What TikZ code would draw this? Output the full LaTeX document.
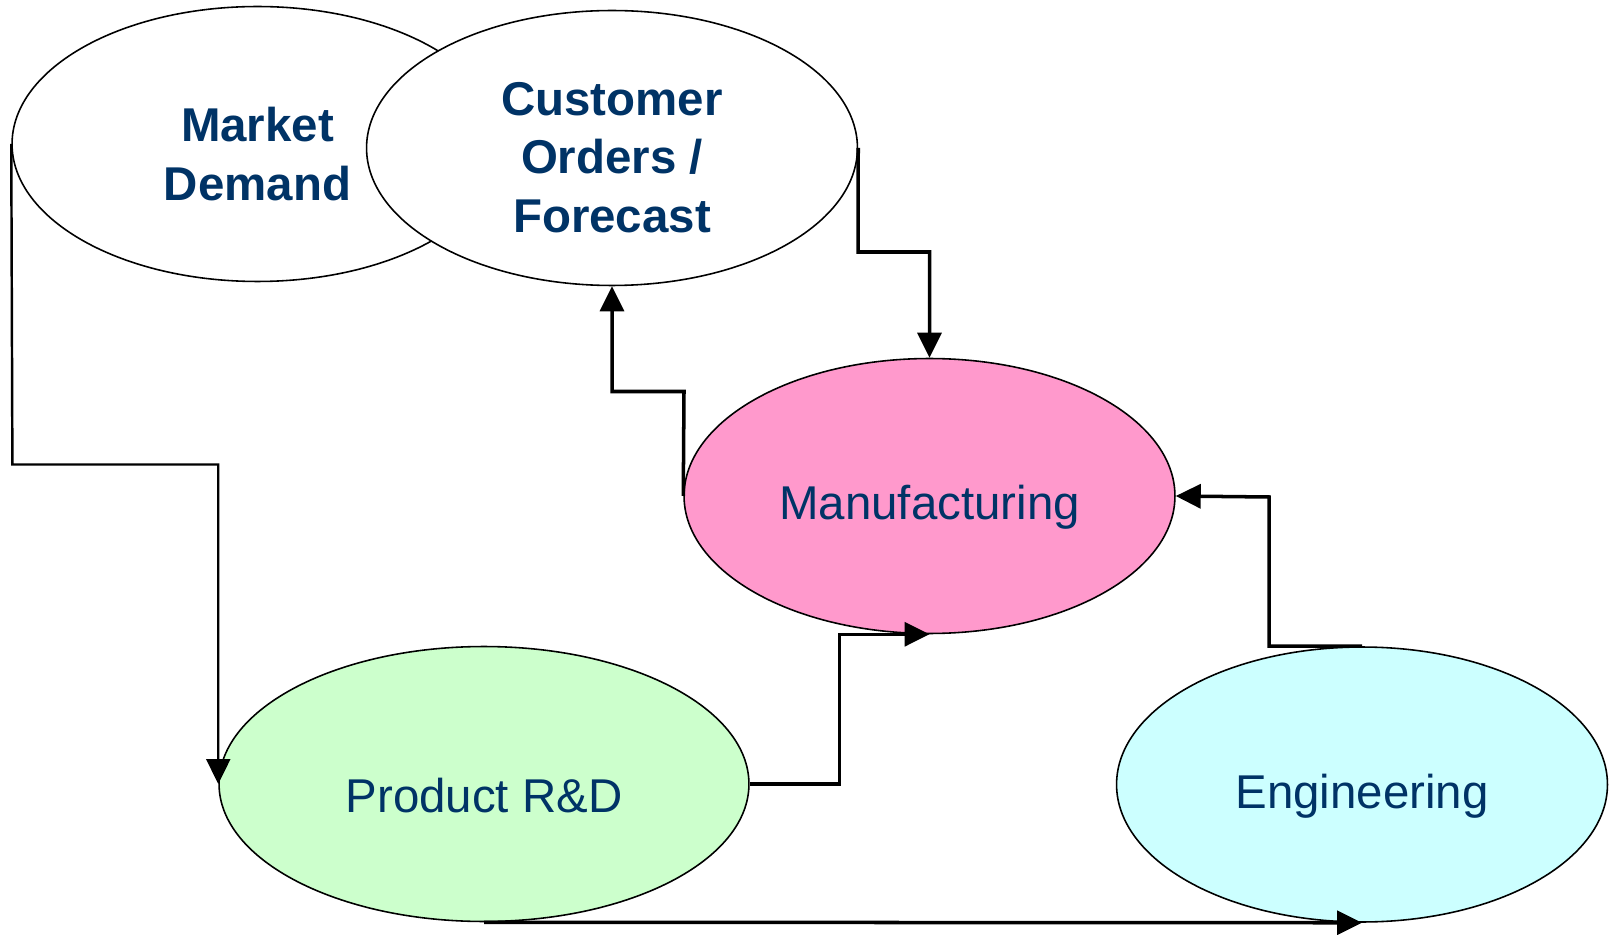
\documentclass[tikz,border=0pt]{standalone}
\usepackage{fontspec}
\setmainfont{Liberation Sans}
\usetikzlibrary{shapes.geometric,arrows.meta}
\definecolor{navy}{HTML}{003366}
\definecolor{mfgpink}{HTML}{FF99CC}
\definecolor{rdgreen}{HTML}{CCFFCC}
\definecolor{engcyan}{HTML}{CCFFFF}

\begin{document}
\begin{tikzpicture}[x=0.02cm, y=-0.02cm,
        blob/.style={ellipse, draw=black, line width=0.9pt, inner sep=0pt,
            minimum width=9.82cm, minimum height=5.5cm},
        plaintext/.style={text=navy, align=center, yshift=-6.5pt,
            font=\fontsize{27}{33}\selectfont},
        boldtext/.style={plaintext, yshift=1pt, font=\fontsize{27}{33.5}\selectfont\bfseries},
        flow/.style={line width=2pt, -{Triangle[length=0.5cm, width=0.48cm]}}]
        \useasboundingbox (0,0) rectangle (1615,935);
        \node[blob, fill=white, label={[boldtext]center:Market\\Demand}] (demand) at (257.5,144) {};
        \node[blob, fill=white, label={[boldtext]center:Customer\\Orders /\\Forecast}] (orders) at (612,148) {};
        \node[blob, fill=mfgpink, label={[plaintext]center:Manufacturing}] (mfg) at (929.5,496) {};
        \node[blob, fill=rdgreen, minimum width=10.6cm, label={[plaintext]center:Product R\&D}] (rnd) at (484,784) {};
        \node[blob, fill=engcyan, label={[plaintext]center:Engineering}] (eng) at (1362,784.5) {};
        \coordinate (kDemand) at (12.4,464.5);
        \coordinate (kOrders) at (858,252);
        \coordinate (kMfg) at (684,391.5);
        \coordinate (kRnd) at (839.5,784);
        \coordinate (kEng) at (1269,497);
        \draw[flow, line width=1.4pt] (demand.west) -- (kDemand) -| (rnd.west);
        \draw[flow] (orders.east) -- (kOrders) -| (mfg.north);
        \draw[flow] (mfg.west) -- (kMfg) -| (orders.south);
        \draw[flow] (rnd.east) -- (kRnd) |- (mfg.south);
        \draw[flow] (eng.north) -| (kEng) -- (mfg.east);
        \draw[flow] (rnd.south) -- (eng.south);
\end{tikzpicture}
\end{document}
